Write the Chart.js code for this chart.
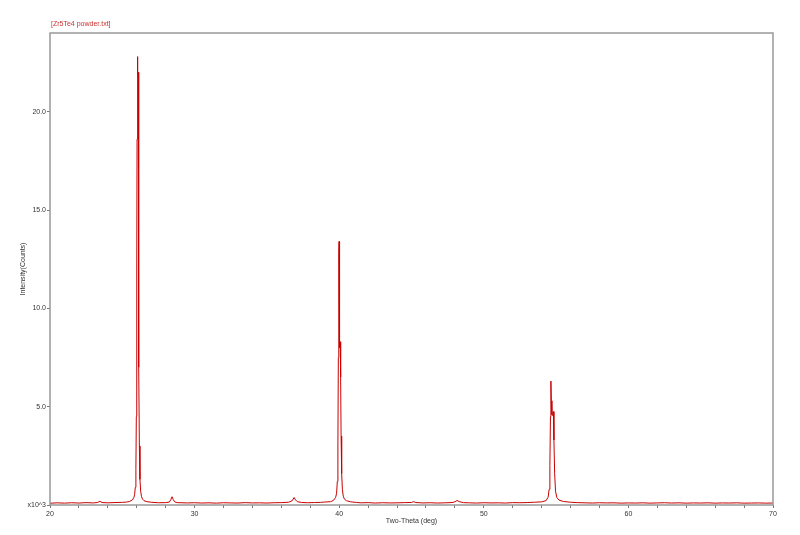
<!DOCTYPE html>
<html>
<head>
<meta charset="utf-8">
<script src="https://cdn.jsdelivr.net/npm/chart.js@4.4.1/dist/chart.umd.min.js"></script>
<style>
  body { margin: 0; background: #fff; }
  canvas { display: block; }
</style>
</head>
<body>
<canvas id="xrd" width="800" height="535"></canvas>
<script>
// Scan data (two-theta in deg, intensity in counts)
const twoTheta = [
  20.0, 20.5, 21.0, 21.5, 22.0, 22.5, 23.0, 23.3, 23.45, 23.6, 24.0, 24.5, 25.0, 25.3, 25.5, 25.7, 25.8, 25.85,
  25.9, 25.94, 25.97, 26.0, 26.02, 26.04, 26.06, 26.08, 26.1, 26.12, 26.15, 26.18, 26.22, 26.27, 26.33, 26.4,
  26.5, 26.7, 27.0, 27.5, 28.0, 28.25, 28.35, 28.44, 28.52, 28.62, 28.8, 29.5, 30.0, 30.5, 31.0, 31.5, 32.0,
  32.5, 33.0, 33.5, 34.0, 34.5, 35.0, 35.5, 36.0, 36.5, 36.75, 36.88, 36.98, 37.1, 37.4, 37.8, 38.3, 38.7,
  39.0, 39.4, 39.6, 39.75, 39.82, 39.87, 39.91, 39.94, 39.97, 39.99, 40.01, 40.04, 40.07, 40.1, 40.13, 40.17,
  40.22, 40.28, 40.36, 40.5, 40.8, 41.2, 41.5, 42.0, 42.5, 43.0, 43.5, 44.0, 44.5, 45.0, 45.15, 45.3, 45.8,
  46.3, 46.8, 47.3, 47.8, 48.0, 48.15, 48.3, 48.6, 49.0, 49.5, 50.0, 50.5, 51.0, 51.5, 52.0, 52.5, 53.0, 53.5,
  54.0, 54.3, 54.45, 54.52, 54.57, 54.61, 54.64, 54.67, 54.71, 54.76, 54.81, 54.85, 54.9, 54.96, 55.05,
  55.2, 55.5, 56.0, 56.5, 57.0, 57.5, 58.0, 58.5, 59.0, 59.5, 60.0, 60.5, 61.0, 61.5, 62.0, 62.5, 63.0, 63.5,
  64.0, 64.5, 65.0, 65.5, 66.0, 66.5, 67.0, 67.5, 68.0, 68.5, 69.0, 69.5, 70.0
];
const counts = [
  90, 110, 95, 115, 100, 120, 105, 130, 190, 125, 110, 125, 135, 150, 180, 260, 380, 520,
  900, 1800, 4500, 12000, 18600, 22800, 21500, 21900, 22000, 15000, 7000, 3000, 1300, 700, 420, 300,
  220, 170, 140, 115, 120, 150, 260, 420, 280, 160, 120, 105, 115, 100, 110, 95, 115,
  105, 100, 120, 105, 110, 100, 115, 120, 140, 220, 380, 260, 170, 130, 115, 125, 135,
  150, 170, 230, 380, 600, 1200, 3000, 7500, 12800, 13400, 11000, 8000, 8300, 6500, 3500, 1600,
  800, 450, 300, 220, 160, 130, 110, 120, 100, 115, 105, 110, 120, 130, 170, 125, 105,
  115, 100, 110, 125, 160, 230, 170, 120, 110, 100, 115, 105, 110, 100, 120, 115, 125, 140,
  160, 220, 400, 800, 2000, 4500, 6300, 5300, 4600, 4550, 4750, 3300, 1600, 700, 380,
  250, 180, 140, 120, 110, 100, 115, 105, 110, 95, 105, 100, 110, 95, 105, 115, 100, 110,
  95, 105, 100, 110, 95, 105, 100, 110, 95, 100, 105, 95, 100
];
const yTicks = [0, 5000, 10000, 15000, 20000];
const xLabels = [20, 30, 40, 50, 60, 70];

const fileName = '[Zr5Te4 powder.txt]';
const textColor = '#333';
const font7 = { family: 'Liberation Sans, Arial, sans-serif', size: 7 };

// frame around the plot + file name above it
const framePlugin = {
  id: 'frame',
  afterDraw(chart) {
    const { ctx, chartArea: a } = chart;
    ctx.save();
    ctx.strokeStyle = '#999';
    ctx.lineWidth = 1.5;
    ctx.strokeRect(a.left, a.top, a.right - a.left, a.bottom - a.top);
    ctx.fillStyle = '#c83232';
    ctx.font = '7px Liberation Sans, Arial, sans-serif';
    ctx.textBaseline = 'middle';
    ctx.fillText(fileName, a.left + 1, 24);
    ctx.restore();
  }
};

const points = twoTheta.map((t, i) => ({ x: t, y: counts[i] }));

new Chart(document.getElementById('xrd'), {
  type: 'line',
  data: {
    datasets: [{
      data: points,
      borderColor: '#c80000',
      borderWidth: 1,
      pointRadius: 0,
      tension: 0,
      fill: false
    }]
  },
  options: {
    responsive: false,
    animation: false,
    layout: { padding: { top: 33, right: 27, left: 0, bottom: 0 } },
    plugins: { legend: { display: false }, tooltip: { enabled: false } },
    scales: {
      x: {
        type: 'linear',
        min: 20,
        max: 70,
        afterFit: (axis) => { axis.height = 30; },
        border: { display: false },
        grid: { drawOnChartArea: false, tickLength: 3, color: '#777' },
        ticks: {
          stepSize: 2,
          autoSkip: false,
          maxRotation: 0,
          padding: 2,
          color: textColor,
          font: font7,
          callback: (v) => xLabels.includes(v) ? String(v) : ''
        },
        title: { display: true, text: 'Two-Theta (deg)', color: textColor, font: font7, padding: { top: 0, bottom: 10 } }
      },
      y: {
        min: 0,
        max: 24000,
        afterFit: (axis) => { axis.width = 50; },
        afterBuildTicks: (axis) => { axis.ticks = yTicks.map(v => ({ value: v })); },
        border: { display: false },
        grid: { drawOnChartArea: false, tickLength: 3, color: '#777' },
        ticks: {
          padding: 1,
          color: textColor,
          font: font7,
          callback: (v) => v === 0 ? 'x10^3' : (v / 1000).toFixed(1)
        },
        title: { display: true, text: 'Intensity(Counts)', color: textColor, font: font7, padding: { top: 19, bottom: 0 } }
      }
    }
  },
  plugins: [framePlugin]
});
</script>
</body>
</html>
